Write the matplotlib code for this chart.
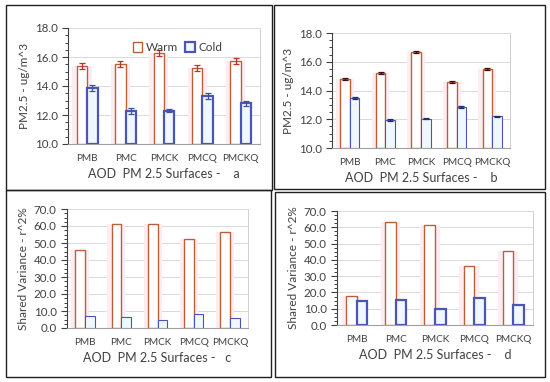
import matplotlib
matplotlib.use("Agg")
import matplotlib.pyplot as plt
from matplotlib.patches import Rectangle
from matplotlib.ticker import MultipleLocator, AutoMinorLocator
import numpy as np

# ------------------------------------------------------------------------------------------
# data
categories = ["PMB", "PMC", "PMCK", "PMCQ", "PMCKQ"]

warm_a = [15.4, 15.5, 16.25, 15.25, 15.7]
cold_a = [13.85, 12.3, 12.3, 13.3, 12.8]
warm_a_err = [0.2, 0.2, 0.2, 0.2, 0.2]
cold_a_err = [0.2, 0.2, 0.1, 0.2, 0.15]

warm_b = [14.8, 15.25, 16.7, 14.6, 15.5]
cold_b = [13.45, 11.95, 12.05, 12.85, 12.2]
warm_b_err = [0.07, 0.07, 0.08, 0.07, 0.06]
cold_b_err = [0.07, 0.04, 0.04, 0.07, 0.06]

warm_c = [46.0, 61.3, 61.3, 52.3, 56.5]
cold_c = [7.0, 6.3, 4.8, 8.3, 6.0]

warm_d = [18.0, 63.0, 61.5, 36.0, 45.5]
cold_d = [15.0, 15.5, 10.0, 16.5, 12.5]

xlabels = ["AOD  PM 2.5 Surfaces -    a", "AOD  PM 2.5 Surfaces -    b",
           "AOD  PM 2.5 Surfaces -   c", "AOD  PM 2.5 Surfaces -    d"]

# ------------------------------------------------------------------------------------------
plt.rcParams["font.family"] = ["Lato", "DejaVu Sans"]
plt.rcParams["font.size"] = 7.5

warm_edge = "#b8603a"
cold_edge = "#4a55b5"
cold_fill = "#f0f7ff"
glow = "#fdedf3"
txt_col = "#404040"

W, H = 550.0, 382.0
fig = plt.figure(figsize=(5.5, 3.82), dpi=100)


def px_axes(x0, y0, x1, y1):
    return fig.add_axes([x0 / W, 1 - y1 / H, (x1 - x0) / W, (y1 - y0) / H])


# panel borders
for (x0, y0, x1, y1) in [(6, 5, 272, 190), (274, 5, 545, 189), (6, 190, 271, 377), (275, 192, 545, 377)]:
    fig.patches.append(Rectangle((x0 / W, 1 - y1 / H), (x1 - x0) / W, (y1 - y0) / H,
                                 transform=fig.transFigure, fill=False, edgecolor="#202020", linewidth=1.0))


def draw_panel(ax, warm, cold, ylim, major, ylabel, xlabel, warm_err=None, cold_err=None,
               cold_lw=1.0, ecol_w=warm_edge, ecol_c=cold_edge):
    x = np.arange(len(categories))
    bw = 0.27
    ax.bar(x - bw / 2, [v - ylim[0] for v in warm], 0.5, bottom=ylim[0], color=glow, zorder=1, linewidth=0)
    ax.bar(x - bw / 2, [v - ylim[0] for v in warm], bw, bottom=ylim[0], facecolor="white",
           edgecolor=warm_edge, linewidth=1.0, zorder=3, label="Warm")
    ax.bar(x + bw / 2, [v - ylim[0] for v in cold], bw, bottom=ylim[0], facecolor=cold_fill,
           edgecolor=cold_edge, linewidth=cold_lw, zorder=3, label="Cold")
    if warm_err is not None:
        ax.errorbar(x - bw / 2, warm, yerr=warm_err, fmt="none", ecolor=ecol_w, elinewidth=0.9,
                    capsize=2.5, capthick=0.9, zorder=4)
        ax.errorbar(x + bw / 2, cold, yerr=cold_err, fmt="none", ecolor=ecol_c, elinewidth=0.9,
                    capsize=2.5, capthick=0.9, zorder=4)
    ax.set_xlim(-0.5, len(categories) - 0.5)
    ax.set_ylim(*ylim)
    ax.yaxis.set_major_locator(MultipleLocator(major))
    ax.yaxis.set_minor_locator(AutoMinorLocator(4))
    ax.yaxis.set_major_formatter(matplotlib.ticker.FormatStrFormatter("%.1f"))
    ax.grid(axis="y", color="#d9d9d9", linewidth=0.7, zorder=0)
    ax.set_axisbelow(True)
    ax.set_xticks(x)
    ax.set_xticklabels(categories, color=txt_col, fontsize=7.2)
    ax.tick_params(axis="x", length=0, pad=7)
    ax.tick_params(axis="y", which="major", direction="out", length=4, colors=txt_col, width=0.8,
                   labelsize=8.3)
    ax.tick_params(axis="y", which="minor", direction="out", length=2.5, color="#404040", width=0.7)
    ax.spines["right"].set_color("#d0d0d0")
    ax.spines["right"].set_linewidth(0.7)
    ax.spines["top"].set_visible(False)
    ax.spines["left"].set_color("#404040")
    ax.spines["bottom"].set_color("#a0a0a0")
    ax.set_ylabel(ylabel, color=txt_col, fontsize=8.5, labelpad=3)
    ax.set_xlabel(xlabel, color=txt_col, fontsize=9, labelpad=4)


ax_a = px_axes(68, 28, 260, 144)
draw_panel(ax_a, warm_a, cold_a, (10, 18), 2, "PM2.5 - ug/m^3", xlabels[0],
           warm_a_err, cold_a_err, cold_lw=1.6, ecol_w="#c0302a", ecol_c="#4050a0")
ax_a.legend(loc="upper center", ncol=2, frameon=False, handlelength=0.8, handleheight=0.8,
            handletextpad=0.3, columnspacing=0.6, fontsize=8.5, bbox_to_anchor=(0.57, 0.97),
            labelcolor=txt_col)

ax_b = px_axes(332, 33, 510, 148)
draw_panel(ax_b, warm_b, cold_b, (10, 18), 2, "PM2.5 - ug/m^3", xlabels[1],
           warm_b_err, cold_b_err, cold_lw=0.8, ecol_w="#401010", ecol_c="#203060")

ax_c = px_axes(67, 209, 248, 328)
draw_panel(ax_c, warm_c, cold_c, (0, 70), 10, "Shared Variance - r^2%", xlabels[2], cold_lw=0.8)

ax_d = px_axes(337, 211, 533, 325)
draw_panel(ax_d, warm_d, cold_d, (0, 70), 10, "Shared Variance - r^2%", xlabels[3], cold_lw=1.6)

fig.savefig("out.png", dpi=100)
